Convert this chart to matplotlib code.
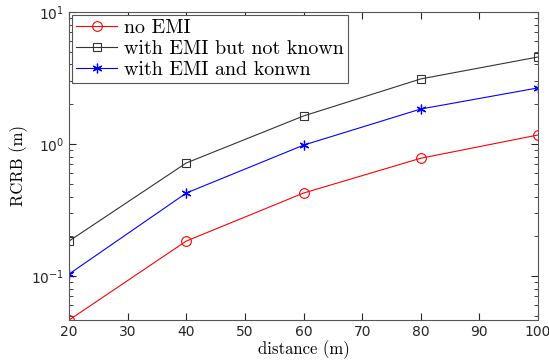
import matplotlib
matplotlib.use("Agg")
import matplotlib.pyplot as plt
from matplotlib.ticker import LogLocator, NullFormatter

distance = [20, 40, 60, 80, 100]
no_emi = [0.0464, 0.184, 0.425, 0.78, 1.17]
emi_unknown = [0.184, 0.718, 1.63, 3.11, 4.56]
emi_known = [0.1035, 0.425, 0.98, 1.84, 2.66]
labels = ["no EMI", "with EMI but not known", "with EMI and konwn"]
xticks = [20, 30, 40, 50, 60, 70, 80, 90, 100]

plt.rcParams['mathtext.fontset'] = 'cm'
fig = plt.figure(figsize=(5.49, 3.62), dpi=100)
ax = fig.add_axes([0.1257, 0.116, 0.8543, 0.851])

lw = 0.8
ax.plot(distance, no_emi, color='red', marker='o', markersize=7, markerfacecolor='none', markeredgewidth=0.8, lw=lw, label=labels[0])
ax.plot(distance, emi_unknown, color='#333333', marker='s', markersize=5.5, markerfacecolor='none', markeredgewidth=0.8, lw=lw, label=labels[1])
ax.plot(distance, emi_known, color='blue', marker=(6, 2, 0), markersize=7, markeredgewidth=0.9, lw=lw, label=labels[2])

ax.set_yscale('log')
ax.set_xlim(20, 100)
ax.set_ylim(10**(-1.333), 10)
ax.set_xticks(xticks)
ax.yaxis.set_minor_locator(LogLocator(base=10, subs=range(2, 10), numticks=20))
ax.yaxis.set_minor_formatter(NullFormatter())
ax.tick_params(which='both', direction='in', top=True, right=True, labelsize=10, colors='#262626')
ax.tick_params(which='major', length=5)
ax.tick_params(which='minor', length=3)
for s in ax.spines.values():
    s.set_color('#555555')
    s.set_linewidth(0.8)

ax.set_xlabel('distance (m)', fontfamily='cmr10', fontsize=12, labelpad=1)
ax.set_ylabel('RCRB (m)', fontfamily='cmr10', fontsize=12, labelpad=2)

leg = ax.legend(loc='upper left', prop={'family': 'cmr10', 'size': 14.4}, fancybox=False,
                edgecolor='#555555', framealpha=1, borderaxespad=0.15, handlelength=2.05,
                labelspacing=0.15, borderpad=0.2, handletextpad=0.35)
leg.get_frame().set_linewidth(0.8)

fig.savefig('out.png', dpi=100)
